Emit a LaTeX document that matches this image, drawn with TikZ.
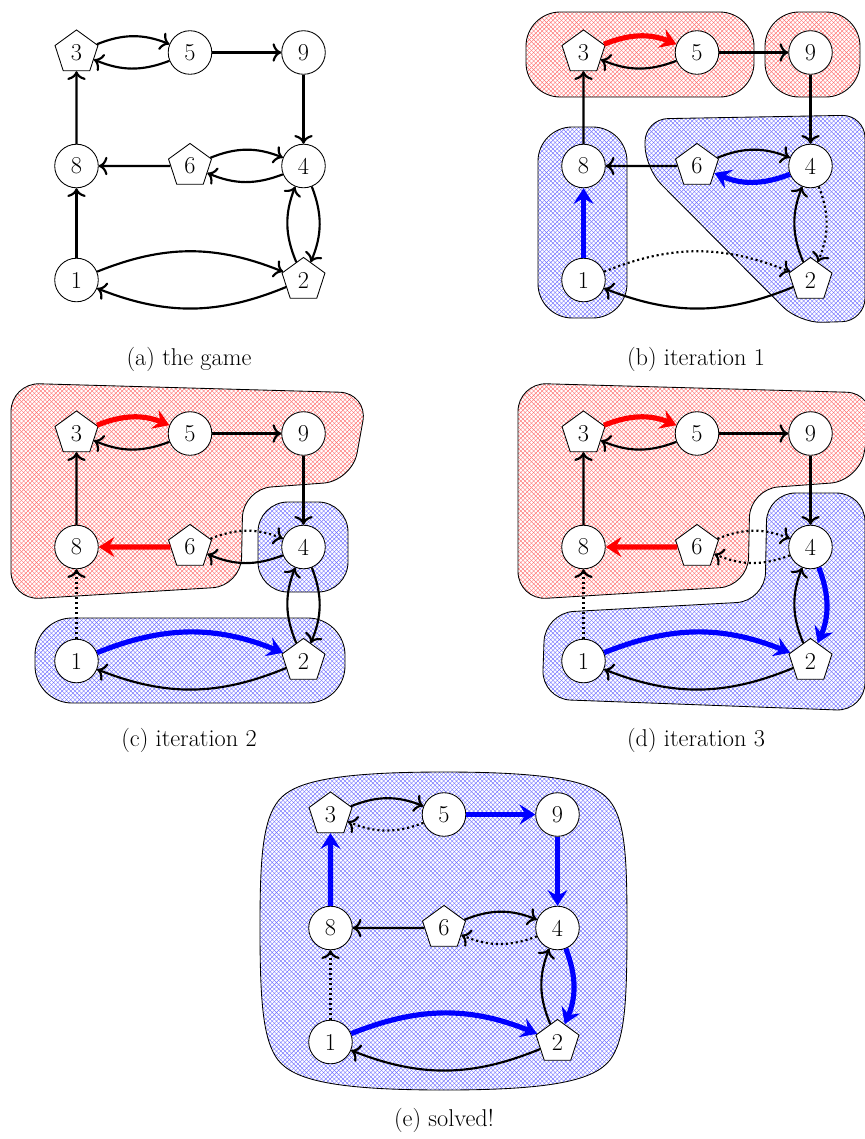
\documentclass[tikz,border=0pt]{standalone}
\usetikzlibrary{shapes.geometric,patterns,arrows.meta}

% a light crosshatch with thin lines
\pgfdeclarepatternformonly{finehatch}{\pgfqpoint{-1pt}{-1pt}}{\pgfqpoint{4pt}{4pt}}{\pgfqpoint{3pt}{3pt}}{%
  \pgfsetlinewidth{0.28pt}
  \pgfpathmoveto{\pgfqpoint{3.1pt}{0pt}}\pgfpathlineto{\pgfqpoint{0pt}{3.1pt}}
  \pgfpathmoveto{\pgfqpoint{0pt}{0pt}}\pgfpathlineto{\pgfqpoint{3.1pt}{3.1pt}}
  \pgfusepath{stroke}}

% the eight vertices of the game graph, names prefixed by #1
\newcommand{\gamenodes}[1]{%
  \node[pent] (#1-3) at (76.5,52.5) {3};
  \node[circ] (#1-5) at (190,52.5) {5};
  \node[circ] (#1-9) at (303.5,52.5) {9};
  \node[circ] (#1-8) at (76.5,166) {8};
  \node[pent] (#1-6) at (190,166) {6};
  \node[circ] (#1-4) at (303.5,166) {4};
  \node[circ] (#1-1) at (76.5,280) {1};
  \node[pent] (#1-2) at (303.5,280) {2};
}

\begin{document}
\begin{tikzpicture}[x=0.7pt,y=-0.7pt,
  every node/.style={font=\fontsize{17}{20}\selectfont},
  circ/.style={circle,draw,line width=0.6pt,fill=white,minimum size=30.5pt,inner sep=0pt},
  pent/.style={regular polygon,regular polygon sides=5,draw,line width=0.6pt,fill=white,minimum size=31.6pt,inner sep=0pt},
  e/.style={line width=1.5pt,-{To[scale=1.25]}},
  dotedge/.style={e,dotted},
  heavy/.style={line width=3.6pt,-{Stealth[length=11pt,width=14pt,inset=4pt]}},
  redE/.style={heavy,red},
  blueE/.style={heavy,blue},
  redhull/.style={draw,line width=0.6pt,pattern=finehatch,pattern color=red!55},
  bluehull/.style={draw,line width=0.6pt,pattern=finehatch,pattern color=blue!55},
  bl/.style={bend left=22}
]
\useasboundingbox (0,0) rectangle (864,1139);

% ---------- (a) the game ----------
\begin{scope}
  \gamenodes{a}
  \draw[e] (a-3) to[bl] (a-5);
  \draw[e] (a-5) to[bl] (a-3);
  \draw[e] (a-5) -- (a-9);
  \draw[e] (a-9) -- (a-4);
  \draw[e] (a-8) -- (a-3);
  \draw[e] (a-6) -- (a-8);
  \draw[e] (a-6) to[bl] (a-4);
  \draw[e] (a-4) to[bl] (a-6);
  \draw[e] (a-1) -- (a-8);
  \draw[e] (a-1) to[bl] (a-2);
  \draw[e] (a-2) to[bl] (a-1);
  \draw[e] (a-2) to[bl] (a-4);
  \draw[e] (a-4) to[bl] (a-2);
\end{scope}
\node (capa) at (189,359) {(a) the game};

% ---------- (b) iteration 1 ----------
\begin{scope}[shift={(507,0)}]
  \draw[redhull,rounded corners=24pt] (19,12) rectangle (247,97);
  \draw[redhull,rounded corners=24pt] (258,12) rectangle (353,97);
  \draw[bluehull,rounded corners=24pt] (31,127) rectangle (120,318);
  \draw[bluehull,rounded corners=16pt] (138,168) -- (138,119) -- (358,115) -- (358,321) -- (292,323) -- cycle;
  \gamenodes{b}
  \draw[redE] (b-3) to[bl] (b-5);
  \draw[e] (b-5) to[bl] (b-3);
  \draw[e] (b-5) -- (b-9);
  \draw[e] (b-9) -- (b-4);
  \draw[e] (b-8) -- (b-3);
  \draw[e] (b-6) -- (b-8);
  \draw[e] (b-6) to[bl] (b-4);
  \draw[blueE] (b-4) to[bl] (b-6);
  \draw[blueE] (b-1) -- (b-8);
  \draw[dotedge] (b-1) to[bl] (b-2);
  \draw[e] (b-2) to[bl] (b-1);
  \draw[e] (b-2) to[bl] (b-4);
  \draw[dotedge] (b-4) to[bl] (b-2);
\end{scope}
\node (capb) at (696,359) {(b) iteration 1};

% ---------- (c) iteration 2 ----------
\begin{scope}[shift={(0,381)}]
  \draw[redhull,rounded corners=20pt] (11,2) -- (368,12) -- (352,100) -- (243,108) -- (241,205) -- (11,219) -- cycle;
  \draw[bluehull,rounded corners=21pt] (258,121) rectangle (348,211);
  \draw[bluehull,rounded corners=26pt] (35,237) rectangle (345,322);
  \gamenodes{c}
  \draw[redE] (c-3) to[bl] (c-5);
  \draw[e] (c-5) to[bl] (c-3);
  \draw[e] (c-5) -- (c-9);
  \draw[e] (c-9) -- (c-4);
  \draw[e] (c-8) -- (c-3);
  \draw[redE] (c-6) -- (c-8);
  \draw[dotedge] (c-6) to[bl] (c-4);
  \draw[e] (c-4) to[bl] (c-6);
  \draw[dotedge] (c-1) -- (c-8);
  \draw[blueE] (c-1) to[bl] (c-2);
  \draw[e] (c-2) to[bl] (c-1);
  \draw[e] (c-2) to[bl] (c-4);
  \draw[e] (c-4) to[bl] (c-2);
\end{scope}
\node (capc) at (189,740) {(c) iteration 2};

% ---------- (d) iteration 3 ----------
\begin{scope}[shift={(507,381)}]
  \draw[redhull,rounded corners=20pt] (11,2) -- (368,12) -- (352,100) -- (243,108) -- (241,205) -- (11,219) -- cycle;
  \draw[bluehull,rounded corners=20pt] (260,112) -- (358,112) -- (358,330) -- (35,318) -- (38,232) -- (258,220) -- cycle;
  \gamenodes{d}
  \draw[redE] (d-3) to[bl] (d-5);
  \draw[e] (d-5) to[bl] (d-3);
  \draw[e] (d-5) -- (d-9);
  \draw[e] (d-9) -- (d-4);
  \draw[e] (d-8) -- (d-3);
  \draw[redE] (d-6) -- (d-8);
  \draw[dotedge] (d-6) to[bl] (d-4);
  \draw[dotedge] (d-4) to[bl] (d-6);
  \draw[dotedge] (d-1) -- (d-8);
  \draw[blueE] (d-1) to[bl] (d-2);
  \draw[e] (d-2) to[bl] (d-1);
  \draw[e] (d-2) to[bl] (d-4);
  \draw[blueE] (d-4) to[bl] (d-2);
\end{scope}
\node (capd) at (696,740) {(d) iteration 3};

% ---------- (e) solved! ----------
\begin{scope}[shift={(254,762)}]
  \draw[bluehull] (190,10) .. controls (300,10) and (340,20) .. (355,38)
    .. controls (372,58) and (373,100) .. (373,166)
    .. controls (373,240) and (371,278) .. (356,298)
    .. controls (340,318) and (300,328) .. (190,328)
    .. controls (80,328) and (40,318) .. (24,298)
    .. controls (9,278) and (6,240) .. (6,166)
    .. controls (6,100) and (8,58) .. (25,38)
    .. controls (40,20) and (80,10) .. (190,10) -- cycle;
  \gamenodes{e}
  \draw[e] (e-3) to[bl] (e-5);
  \draw[dotedge] (e-5) to[bl] (e-3);
  \draw[blueE] (e-5) -- (e-9);
  \draw[blueE] (e-9) -- (e-4);
  \draw[blueE] (e-8) -- (e-3);
  \draw[e] (e-6) -- (e-8);
  \draw[e] (e-6) to[bl] (e-4);
  \draw[dotedge] (e-4) to[bl] (e-6);
  \draw[dotedge] (e-1) -- (e-8);
  \draw[blueE] (e-1) to[bl] (e-2);
  \draw[e] (e-2) to[bl] (e-1);
  \draw[e] (e-2) to[bl] (e-4);
  \draw[blueE] (e-4) to[bl] (e-2);
\end{scope}
\node (cape) at (444,1120) {(e) solved!};
\end{tikzpicture}
\end{document}
